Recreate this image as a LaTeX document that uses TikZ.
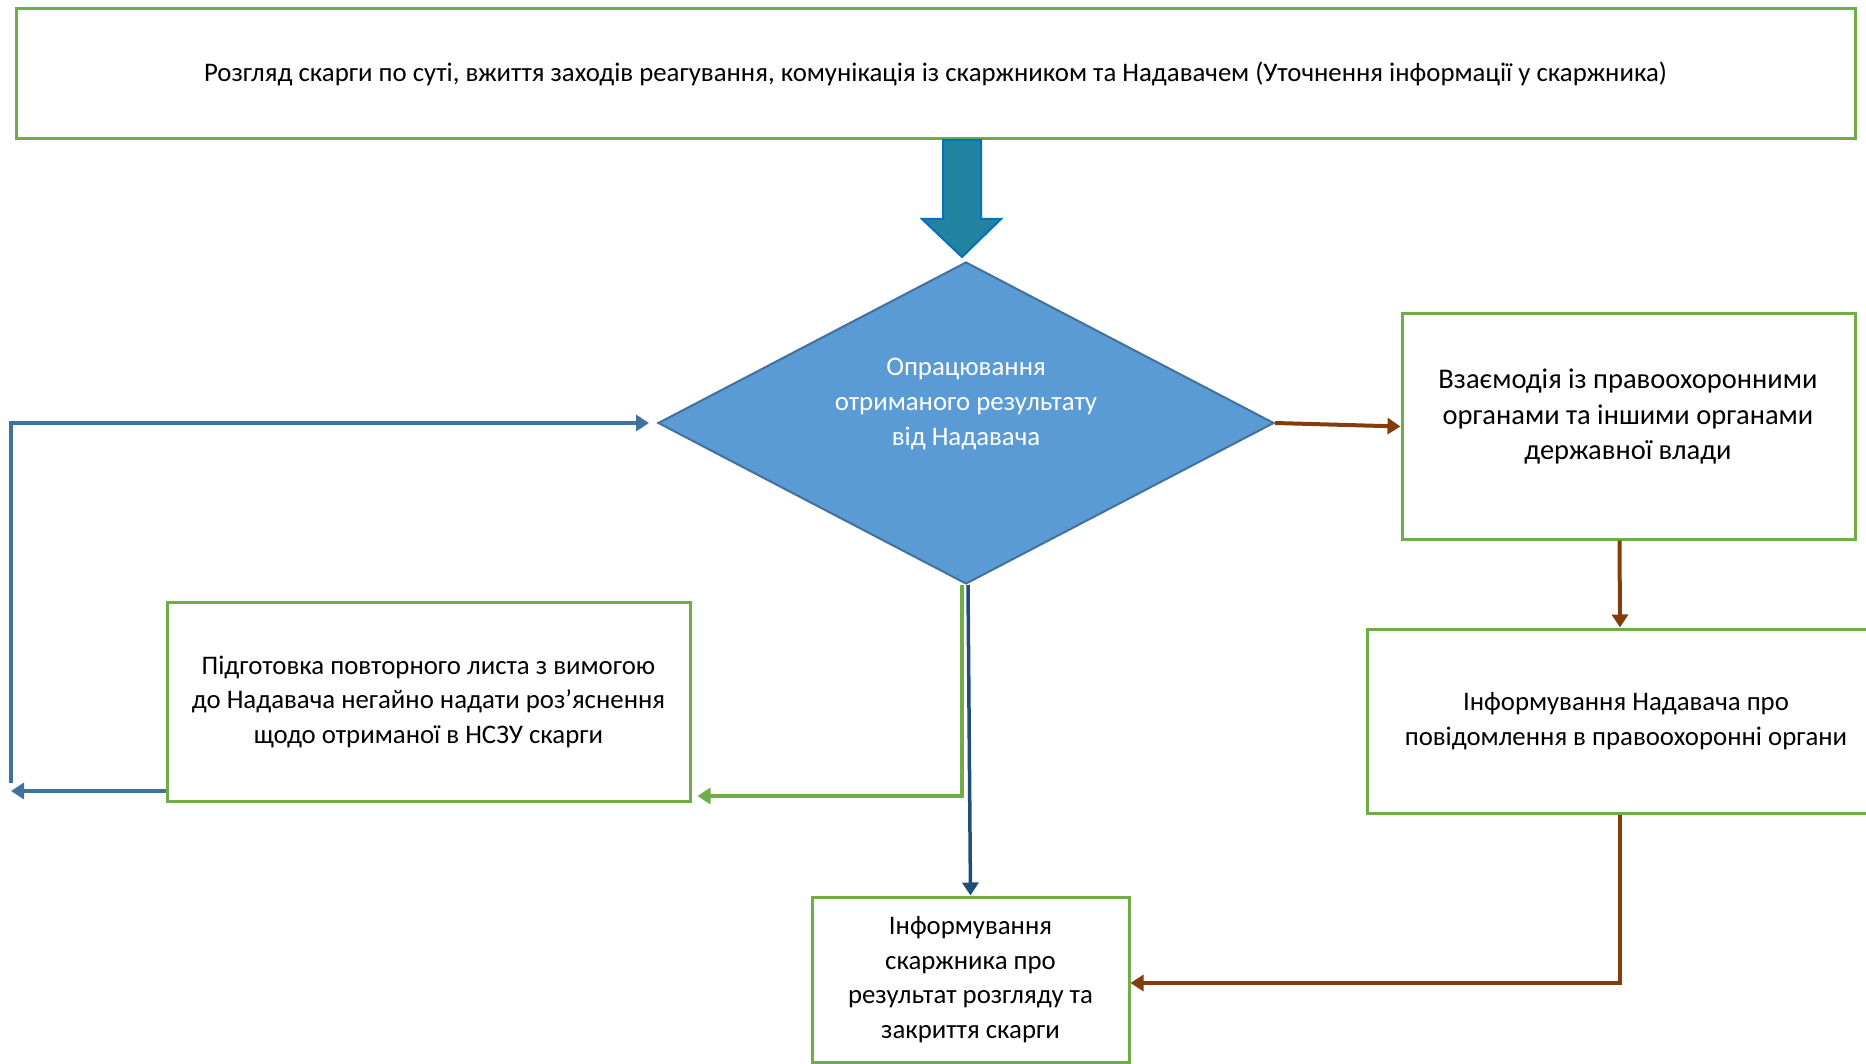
\documentclass[tikz,border=0pt]{standalone}
\usepackage{fontspec}
\setmainfont{Carlito}
\usetikzlibrary{arrows.meta,shapes.geometric,calc}
\definecolor{gbox}{RGB}{112,173,71}
\definecolor{dfill}{RGB}{91,155,213}
\definecolor{dline}{RGB}{65,113,156}
\definecolor{brownA}{RGB}{132,60,12}
\definecolor{navyA}{RGB}{31,78,121}
\definecolor{tealA}{RGB}{33,131,160}
\definecolor{blueA}{RGB}{0,112,192}
\definecolor{loopA}{RGB}{65,113,156}
\begin{document}
\begin{tikzpicture}[x=1pt,y=-1pt,
  box/.style={draw=gbox, line width=3pt, fill=white, align=center, inner sep=0pt,
    font=\fontsize{26.8}{34.5}\selectfont},
  txt/.style={align=center, inner sep=0pt, font=\fontsize{26.8}{34.5}\selectfont},
  conn/.style={line width=4pt, -{Triangle[length=13pt,width=16pt]}},
  plain/.style={line width=4pt}
]
\useasboundingbox (0,0) rectangle (1866,1064);
\clip (0,0) rectangle (1866,1064);

% boxes
\node[box, minimum width=1839pt, minimum height=130pt] (top) at (935.5,74)
  {Розгляд скарги по суті, вжиття заходів реагування, комунікація із скаржником та Надавачем (Уточнення інформації у скаржника)};

\node[diamond, draw=dline, fill=dfill, line width=2pt, inner sep=0pt,
  minimum width=616pt, minimum height=322pt] (dia) at (966,423) {};
\node[txt, text=white, font=\fontsize{26.8}{35}\selectfont] (diat) at (966,404)
  {Опрацювання\\отриманого результату\\від Надавача};

\node[box, minimum width=523pt, minimum height=199pt] (pid) at (428.5,701.5)
  {Підготовка повторного листа з вимогою\\до Надавача негайно надати роз’яснення\\щодо отриманої в НСЗУ скарги};

\node[box, minimum width=453pt, minimum height=225pt] (vz) at (1628.5,426.5) {};
\node[txt, font=\fontsize{28.5}{35.5}\selectfont] (vzt) at (1628,417)
  {Взаємодія із правоохоронними\\органами та іншими органами\\державної влади};

\node[box, minimum width=518pt, minimum height=184pt] (inf) at (1626,721)
  {Інформування Надавача про\\повідомлення в правоохоронні органи};

\node[box, minimum width=317pt, minimum height=165pt] (fin) at (970.5,979.5)
  {Інформування\\скаржника про\\результат розгляду та\\закриття скарги};

% big block arrow
\draw[draw=blueA, fill=tealA, line width=2pt, line join=miter]
  (943,140) -- (981,140) -- (981,219) -- (1001,219) -- (962,257)
  -- (922,219) -- (943,219) -- cycle;

% connectors
\coordinate (lb) at (11,783);
\coordinate (la) at (11,791);

\draw[conn, brownA] (dia.east) -- (vz.west);
\draw[conn, brownA] ([xshift=-9pt]vz.south) -- ([xshift=-6pt]inf.north);
\draw[conn, brownA] ([xshift=-6pt]inf.south) |- ([yshift=-3.5pt]fin.east);
\draw[conn, navyA, line width=3.5pt] ([xshift=2pt]dia.south) -- (fin.north);
\draw[conn, gbox, shorten >=6pt] ([xshift=-4pt]dia.south) |- ([yshift=-94.5pt]pid.east);
\draw[conn, loopA, line width=3.5pt] ([yshift=-89.5pt]pid.west) -- (la);
\draw[conn, loopA, line width=3.5pt, shorten >=8pt] (lb) |- (dia.west);
\end{tikzpicture}
\end{document}
